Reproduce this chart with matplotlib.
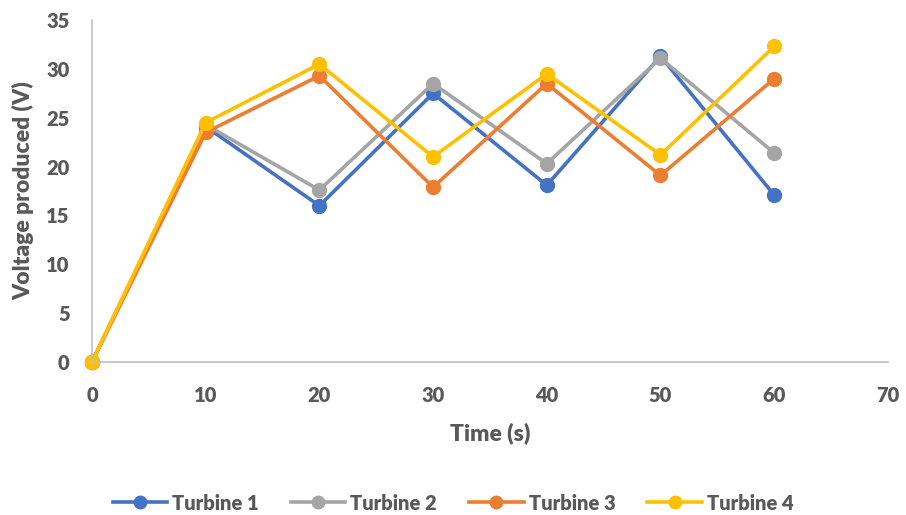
import matplotlib
matplotlib.use('Agg')
import matplotlib.pyplot as plt

plt.rcParams['font.family'] = ['Lato', 'DejaVu Sans']
plt.rcParams['font.weight'] = 'heavy'

time_s = [0, 10, 20, 30, 40, 50, 60]
turbine1 = [0, 24.1, 16.0, 27.5, 18.1, 31.3, 17.1]
turbine2 = [0, 24.3, 17.6, 28.5, 20.3, 31.1, 21.4]
turbine3 = [0, 23.5, 29.3, 17.9, 28.5, 19.1, 29.0]
turbine4 = [0, 24.5, 30.5, 21.0, 29.5, 21.2, 32.3]

series = [('Turbine 1', turbine1, '#4472C4'),
          ('Turbine 2', turbine2, '#A5A5A5'),
          ('Turbine 3', turbine3, '#ED7D31'),
          ('Turbine 4', turbine4, '#FFC000')]

txt = '#595959'
wt = 'heavy'

fig = plt.figure(figsize=(9.06, 5.15), dpi=100)
ax = fig.add_axes([0.1015, 0.297, 0.8785, 0.664])

for name, vals, col in series:
    ax.plot(time_s, vals, color=col, lw=2.6, marker='o', ms=10, label=name,
            clip_on=False)

ax.set_xlim(0, 70)
ax.set_ylim(0, 35)
ax.set_xticks(range(0, 71, 10))
ax.set_yticks(range(0, 36, 5))
ax.tick_params(length=0, labelsize=14.5, labelcolor=txt)
ax.tick_params(axis='x', pad=17)
ax.tick_params(axis='y', pad=16)
for lab in ax.get_xticklabels() + ax.get_yticklabels():
    lab.set_fontweight(wt)

for s in ['top', 'right']:
    ax.spines[s].set_visible(False)
for s in ['left', 'bottom']:
    ax.spines[s].set_color('#BFBFBF')
    ax.spines[s].set_linewidth(1.2)

ax.set_xlabel('Time (s)', fontsize=16.5, color=txt, fontweight=wt, labelpad=13)
ax.set_ylabel('Voltage produced (V)', fontsize=16.5, color=txt, fontweight=wt, labelpad=9)

leg = fig.legend(loc='center', bbox_to_anchor=(0.5, 1 - 503 / 515), ncol=4, frameon=False,
                 fontsize=14.5, handlelength=2.7, columnspacing=1.6, handletextpad=0.25,
                 borderpad=0, markerscale=0.9)
for t in leg.get_texts():
    t.set_color(txt)
    t.set_fontweight(wt)

fig.savefig('out.png', dpi=100)
